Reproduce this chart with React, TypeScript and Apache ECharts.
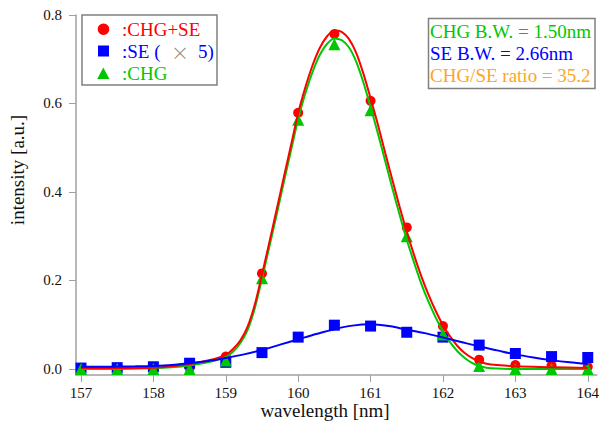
import React, { useEffect, useRef } from "react";
import * as echarts from "echarts";

// measured points
const dataX = [157, 157.5, 158, 158.5, 159, 159.5, 160, 160.5, 161, 161.5, 162, 162.5, 163, 163.5, 164];
const chgSeData = [0.003, 0.001, 0.001, 0.002, 0.028, 0.216, 0.579, 0.757, 0.606, 0.32, 0.097, 0.021, 0.009, 0.008, 0.005];
const seData = [0.002, 0.003, 0.005, 0.013, 0.015, 0.037, 0.072, 0.099, 0.097, 0.083, 0.072, 0.054, 0.035, 0.028, 0.026];
const chgData = [0, 0, 0, 0, 0.019, 0.205, 0.563, 0.734, 0.585, 0.3, 0.078, 0.007, 0, 0, 0];

// fitted curves
const fitX = [
  157, 157.5, 158, 158.25, 158.5, 158.75,
  159, 159.1, 159.2, 159.3, 159.4, 159.5, 159.6, 159.7, 159.8, 159.9,
  160, 160.1, 160.2, 160.3, 160.4, 160.5, 160.6, 160.7, 160.8, 160.9,
  161, 161.1, 161.2, 161.3, 161.4, 161.5, 161.6, 161.7, 161.8, 161.9,
  162, 162.1, 162.2, 162.3, 162.4, 162.5, 162.6,
  162.75, 163, 163.5, 164,
];
const fitChgSe = [
  0.002, 0.002, 0.003, 0.006, 0.011, 0.019,
  0.032, 0.045, 0.064, 0.095, 0.145, 0.213, 0.285, 0.358, 0.432, 0.505,
  0.578, 0.637, 0.687, 0.726, 0.752, 0.765, 0.762, 0.746, 0.715, 0.668,
  0.612, 0.553, 0.49, 0.428, 0.367, 0.31, 0.258, 0.21, 0.168, 0.131,
  0.099, 0.073, 0.052, 0.036, 0.025, 0.017, 0.012,
  0.009, 0.006, 0.004, 0.002,
];
const fitChg = [
  0, 0, 0.002, 0.004, 0.008, 0.015,
  0.027, 0.039, 0.058, 0.088, 0.137, 0.204, 0.275, 0.347, 0.421, 0.493,
  0.565, 0.623, 0.672, 0.71, 0.735, 0.747, 0.743, 0.727, 0.695, 0.648,
  0.592, 0.533, 0.471, 0.409, 0.349, 0.292, 0.241, 0.193, 0.152, 0.116,
  0.085, 0.06, 0.04, 0.025, 0.014, 0.007, 0.003,
  0.001, 0, 0, 0,
];
const fitSeX = [
  157, 157.25, 157.5, 157.75, 158, 158.25, 158.5, 158.75, 159, 159.25, 159.5, 159.75,
  160, 160.25, 160.5, 160.75, 161, 161.25, 161.5, 161.75, 162, 162.25, 162.5, 162.75,
  163, 163.25, 163.5, 163.75, 164,
];
const fitSe = [
  0.005, 0.005, 0.0055, 0.006, 0.007, 0.009, 0.013, 0.018, 0.025, 0.033, 0.043, 0.055,
  0.067, 0.079, 0.09, 0.098, 0.101, 0.097, 0.089, 0.081, 0.071, 0.061, 0.051, 0.042,
  0.033, 0.026, 0.02, 0.015, 0.011,
];

const xTicks = [157, 158, 159, 160, 161, 162, 163, 164];
const yTicks = [0, 0.2, 0.4, 0.6, 0.8];

const legendLabels = [":CHG+SE", ":SE (", "×", "5)", ":CHG"];
const infoLines = ["CHG B.W. = 1.50nm", "SE B.W. = 2.66nm", "CHG/SE ratio = 35.2"];

const RED = "#ff0000";
const BLUE = "#0000ff";
const GREEN = "#00c800";
const ORANGE = "#ffa520";
const FONT = "'Liberation Serif', 'Times New Roman', serif";

const pairs = (xs: number[], ys: number[]) => xs.map((x, i) => [x, ys[i]]);

export default function App() {
  const ref = useRef<HTMLDivElement>(null);
  useEffect(() => {
    if (!ref.current) return;
    const chart = echarts.init(ref.current, null, { renderer: "svg" });
    const axisColor = "#a0a0a0";
    const lineSeries = (name: string, xs: number[], ys: number[], color: string) => ({
      name,
      type: "line",
      data: pairs(xs, ys),
      showSymbol: false,
      symbol: "none",
      smooth: 0.3,
      lineStyle: { color, width: 2 },
      silent: true,
    });
    const scatterSeries = (name: string, ys: number[], color: string, symbol: string, size: number) => ({
      name,
      type: "scatter",
      data: pairs(dataX, ys),
      symbol,
      symbolSize: size,
      itemStyle: { color, opacity: 1 },
      silent: true,
    });
    const textStyle = (text: string, color: string, font = FONT, size = 19) => ({
      text,
      fill: color,
      fontFamily: font,
      fontSize: size,
      textVerticalAlign: "middle",
      verticalAlign: "middle",
    });
    chart.setOption({
      animation: false,
      backgroundColor: "#ffffff",
      grid: { left: 76, right: 2, top: 15, bottom: 51, containLabel: false },
      xAxis: {
        type: "value",
        min: 156.931,
        max: 164.124,
        axisLine: { show: true, onZero: false, lineStyle: { color: axisColor, width: 1.5 } },
        axisTick: { show: true, inside: false, length: 7, customValues: xTicks, lineStyle: { color: axisColor, width: 1 } },
        axisLabel: {
          customValues: xTicks,
          margin: 10,
          color: "#111",
          fontFamily: FONT,
          fontSize: 15,
          formatter: (v: number) => String(v),
        },
        splitLine: { show: false },
      },
      yAxis: {
        type: "value",
        min: -0.0136,
        max: 0.8,
        axisLine: { show: true, onZero: false, lineStyle: { color: axisColor, width: 1.5 } },
        axisTick: { show: true, inside: false, length: 7, customValues: yTicks, lineStyle: { color: axisColor, width: 1 } },
        axisLabel: {
          customValues: yTicks,
          margin: 14,
          color: "#111",
          fontFamily: FONT,
          fontSize: 15,
          formatter: (v: number) => v.toFixed(1),
        },
        splitLine: { show: false },
      },
      series: [
        lineSeries("CHG fit", fitX, fitChg, GREEN),
        lineSeries("CHG+SE fit", fitX, fitChgSe, RED),
        lineSeries("SE fit", fitSeX, fitSe, BLUE),
        scatterSeries("CHG+SE", chgSeData, RED, "circle", 10),
        scatterSeries("SE", seData, BLUE, "rect", 11),
        scatterSeries("CHG", chgData, GREEN, "triangle", 12),
      ],
      graphic: [
        {
          type: "text",
          x: 17,
          y: 170,
          rotation: Math.PI / 2,
          style: { ...textStyle("intensity [a.u.]", "#111"), textAlign: "center", align: "center" },
        },
        {
          type: "text",
          x: 325,
          y: 410,
          style: { ...textStyle("wavelength [nm]", "#111", FONT, 19), textAlign: "center", align: "center" },
        },
        // legend box
        {
          type: "rect",
          shape: { x: 82, y: 15, width: 135, height: 70 },
          style: { fill: "#ffffff", stroke: "#808080", lineWidth: 1.5 },
          z: 100,
        },
        { type: "circle", shape: { cx: 103.5, cy: 29.2, r: 5.8 }, style: { fill: RED }, z: 101 },
        { type: "rect", shape: { x: 98, y: 45.5, width: 11, height: 11 }, style: { fill: BLUE }, z: 101 },
        {
          type: "polygon",
          shape: { points: [[103.3, 67.5], [97.2, 79], [109.4, 79]] },
          style: { fill: GREEN },
          z: 101,
        },
        { type: "text", x: 122, y: 29.5, style: textStyle(legendLabels[0], RED), z: 101 },
        { type: "text", x: 122, y: 51.5, style: textStyle(legendLabels[1], BLUE), z: 101 },
        {
          type: "text",
          x: 180,
          y: 51.5,
          style: { ...textStyle(legendLabels[2], "#808080", "'Noto Sans CJK JP', sans-serif", 18), textAlign: "center", align: "center", fontWeight: 200 },
          z: 101,
        },
        { type: "text", x: 198, y: 51.5, style: textStyle(legendLabels[3], BLUE), z: 101 },
        { type: "text", x: 122, y: 73.5, style: textStyle(legendLabels[4], GREEN), z: 101 },
        // info box
        {
          type: "rect",
          shape: { x: 428.5, y: 18.5, width: 166.5, height: 70 },
          style: { fill: "#ffffff", stroke: "#808080", lineWidth: 1.5 },
          z: 100,
        },
        { type: "text", x: 430, y: 31.5, style: textStyle(infoLines[0], GREEN), z: 101 },
        { type: "text", x: 430, y: 53.5, style: textStyle(infoLines[1], BLUE), z: 101 },
        { type: "text", x: 430, y: 75.5, style: textStyle(infoLines[2], ORANGE), z: 101 },
      ],
    });
    return () => chart.dispose();
  }, []);
  return (
    <div
      ref={ref}
      style={{ position: "fixed", left: 0, top: 0, width: 602, height: 426, background: "#fff" }}
    />
  );
}
